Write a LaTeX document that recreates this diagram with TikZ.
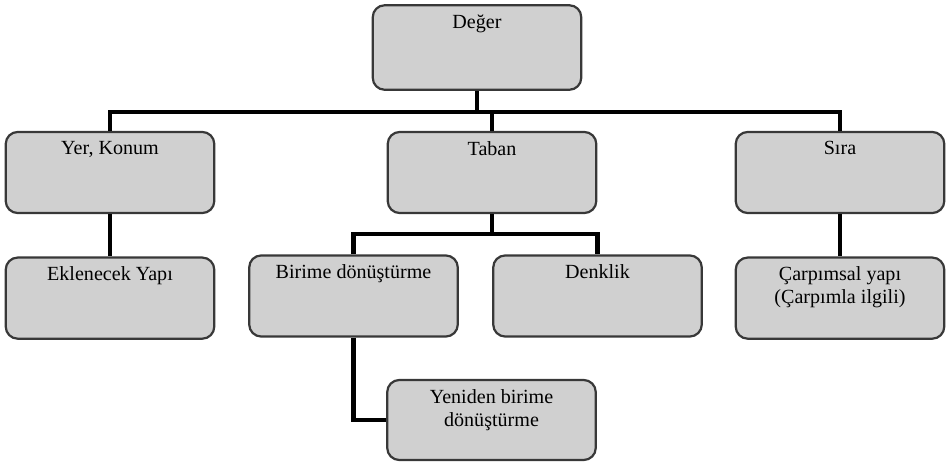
\documentclass[tikz,border=0pt]{standalone}
\usepackage{fontspec}
\setmainfont{Liberation Serif}
\usepackage{tikz}
\usetikzlibrary{positioning}
\definecolor{boxfill}{HTML}{D0D0D0}
\definecolor{boxline}{HTML}{383838}

\begin{document}
\begin{tikzpicture}[
    x=0.0175cm, y=-0.0175cm,
    box/.style={rectangle, draw=boxline, fill=boxfill, line width=1.1pt, rounded corners=6pt,
        minimum width=3.65cm, minimum height=1.42cm,
        label={[anchor=north, align=center, inner sep=5pt, font=\fontsize{10}{11.5}\selectfont]north:#1}},
    link/.style={line width=2pt, color=black, line join=miter}
]
\useasboundingbox (0,0) rectangle (947,463);
\coordinate (bus) at (0,112);
\coordinate (sub) at (0,234);

\node[box=Değer, minimum height=1.48cm] (deger) at (477,47.5) {};
\node[box={Yer, Konum}] (yer) at (110,172.5) {};
\node[box=Taban] (taban) at (492,172.5) {};
\node[box=Sıra] (sira) at (840,172.5) {};
\node[box=Eklenecek Yapı, below=0.74cm of yer] (ekle) {};
\node[box=Birime dönüştürme] (birime) at (353.5,296) {};
\node[box=Denklik] (denklik) at (597.5,296) {};
\node[box={Çarpımsal yapı\\(Çarpımla ilgili)}, below=0.74cm of sira] (carp) {};
\node[box={Yeniden birime\\dönüştürme}, minimum height=1.4cm] (yeniden) at (491.5,420) {};

\draw[link] (deger.south) -- (deger.south |- bus);
\draw[link] (yer.north) |- (sira.north |- bus) -- (sira.north);
\draw[link] (taban.north) -- (taban.north |- bus);
\draw[link] (yer) -- (ekle);
\draw[link] (sira) -- (carp);
\draw[link] (taban.south) -- (taban.south |- sub);
\draw[link] (birime.north) |- (denklik.north |- sub) -- (denklik.north);
\draw[link] (birime.south) |- (yeniden.west);
\end{tikzpicture}
\end{document}
